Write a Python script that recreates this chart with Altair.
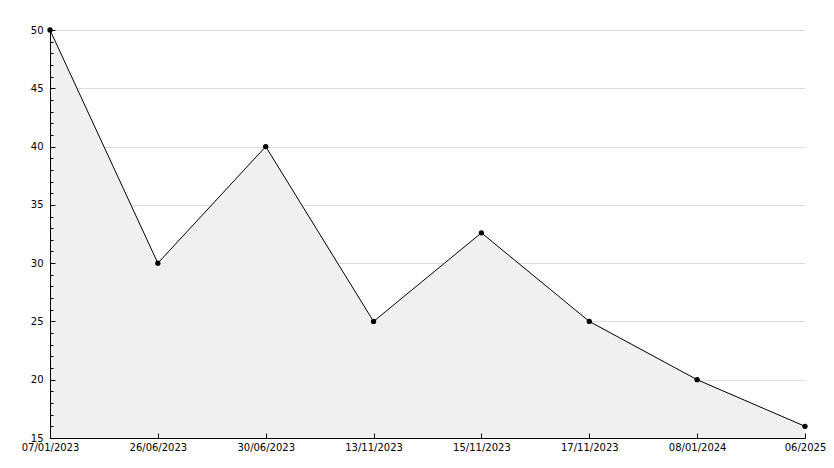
import altair as alt
import pandas as pd

dates = ["07/01/2023", "26/06/2023", "30/06/2023", "13/11/2023",
         "15/11/2023", "17/11/2023", "08/01/2024", "06/2025"]
values = [50, 30, 40, 25, 32.6, 25, 20, 16]
major_ticks = [15, 20, 25, 30, 35, 40, 45, 50]
minor_ticks = [v for v in range(15, 51) if v % 5 != 0]

df = pd.DataFrame({"date": dates, "value": values})

W, H = 755, 408
FONT = "DejaVu Sans"

xs = alt.Scale(type="point", padding=0, domain=dates)
ys = alt.Scale(domain=[15, 50], nice=False, zero=False)

base = alt.Chart(df)

area = base.mark_area(color="#f0f0f0", opacity=1, clip=True).encode(
    x=alt.X("date:N", scale=xs, sort=dates, title=None,
            axis=alt.Axis(orient="bottom", labelAngle=0, ticks=False,
                          domainColor="black", labelColor="black",
                          labelFont=FONT, labelFontSize=10, labelPadding=4,
                          grid=False, zindex=1)),
    y=alt.Y("value:Q", scale=ys, title=None,
            axis=alt.Axis(orient="left", values=major_ticks, ticks=False,
                          domainColor="black", labelColor="black",
                          labelFont=FONT, labelFontSize=10, labelPadding=7,
                          grid=True, gridColor="#dcdcdc", zindex=0)),
)

line = base.mark_line(color="black", strokeWidth=1).encode(
    x=alt.X("date:N", scale=xs, sort=dates, axis=None),
    y=alt.Y("value:Q", scale=ys, axis=None),
)

pts = base.mark_point(shape="circle", filled=True, color="black", size=28,
                      opacity=1).encode(
    x=alt.X("date:N", scale=xs, sort=dates, axis=None),
    y=alt.Y("value:Q", scale=ys, axis=None),
)

major_axes = base.mark_point(opacity=0).encode(
    x=alt.X("date:N", scale=xs, sort=dates, title=None,
            axis=alt.Axis(orient="top", offset=-H, labels=False, domain=False,
                          grid=False, tickSize=5, tickColor="black",
                          zindex=1)),
    y=alt.Y("value:Q", scale=ys, title=None,
            axis=alt.Axis(orient="right", offset=-W, values=major_ticks,
                          labels=False, domain=False, grid=False,
                          tickSize=5, tickColor="black", zindex=1)),
)

minor_axes = base.mark_point(opacity=0).encode(
    x=alt.X("date:N", scale=xs, sort=dates, axis=None),
    y=alt.Y("value:Q", scale=ys, title=None,
            axis=alt.Axis(orient="right", offset=-W, values=minor_ticks,
                          labels=False, domain=False, grid=False,
                          tickSize=3, tickColor="black", zindex=1)),
)

left_domain = base.mark_point(opacity=0).encode(
    x=alt.X("date:N", scale=xs, sort=dates, axis=None),
    y=alt.Y("value:Q", scale=ys, title=None,
            axis=alt.Axis(orient="left", labels=False, ticks=False,
                          grid=False, domainColor="black", zindex=1)),
)

chart = alt.layer(area, major_axes, minor_axes, left_domain, line, pts).resolve_axis(
    x="independent", y="independent"
).properties(
    width=W, height=H,
    autosize=alt.AutoSizeParams(type="none"),
    padding={"left": 42, "top": 22, "right": 21, "bottom": 22},
    background="white",
).configure_view(stroke=None)

chart.save("out.html", embed_options={"renderer": "svg", "actions": False})
